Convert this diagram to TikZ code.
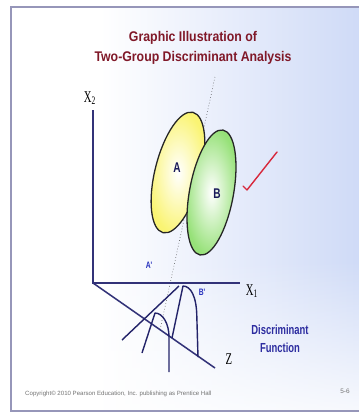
\documentclass[tikz,border=0pt]{standalone}
\usepackage{fontspec}
\setmainfont{Liberation Sans}
\newfontfamily\titlefont[FakeStretch=0.88]{Liberation Sans Bold}
\newfontfamily\narrowfont[FakeStretch=0.8]{Liberation Sans}
\newfontfamily\narrowbold[FakeStretch=0.72]{Liberation Sans Bold}
\newfontfamily\axisfont[FakeStretch=0.65]{Liberation Serif}
\usetikzlibrary{fadings}
\definecolor{titlered}{RGB}{128, 24, 40}
\definecolor{axisnavy}{RGB}{50, 50, 120}
\definecolor{curvenavy}{RGB}{35, 35, 105}
\definecolor{darknavy}{RGB}{25, 25, 90}
\definecolor{projblue}{RGB}{40, 50, 190}
\definecolor{funcblue}{RGB}{45, 45, 160}
\definecolor{framegray}{RGB}{150, 150, 185}
\definecolor{bgblue}{RGB}{196, 210, 245}
\definecolor{ellyellow}{RGB}{250, 244, 115}
\definecolor{ellgreen}{RGB}{150, 225, 120}
\definecolor{checkred}{RGB}{215, 40, 60}

\begin{document}
\begin{tikzpicture}[
  x=0.03cm, y=-0.03cm,
  axis/.style={draw=axisnavy, line width=1.3pt},
  curve/.style={draw=curvenavy, line width=1.2pt, line join=round},
  ellbox/.style={draw=black!85, line width=1.1pt},
  axlabel/.style={font=\axisfont\fontsize{14}{14}\selectfont, text=black, inner sep=0pt},
  grplabel/.style={font=\narrowbold\fontsize{12}{12}\selectfont, text=darknavy, inner sep=0pt},
  projlabel/.style={font=\narrowbold\fontsize{8}{8}\selectfont, text=projblue, inner sep=0pt},
  footnote/.style={font=\fontsize{5.2}{6}\selectfont, text=black!55, inner sep=0pt}
]
  \useasboundingbox (0, 0) rectangle (358, 414);
  \fill[white] (0, 0) rectangle (358, 414);
  \shade[left color=white, right color=bgblue] (100, 7) rectangle (420, 411);
  \fill[white, path fading=north] (0, 260) rectangle (360, 440);
  \draw[framegray, line width=1.5pt] (362, 7) -- (11, 7) -- (11, 411) -- (362, 411);

  \node[font=\titlefont\fontsize{11.95}{17}\selectfont, text=titlered, align=center] (title) at (193, 48) {Graphic Illustration of\\Two-Group Discriminant Analysis};

  \coordinate (O) at (93, 283);
  \coordinate (x2end) at (93, 110);
  \coordinate (x1end) at (240, 283);
  \coordinate (zend) at (215, 368);
  \coordinate (dtop) at (215, 77);
  \coordinate (dbot) at (160, 330);

  \draw[dotted, line width=0.5pt, black!75] (dtop) -- (dbot);

  \shadedraw[ellbox, inner color=white, outer color=ellyellow] (178, 172.5) circle[x radius=62, y radius=23, rotate=76];
  \shadedraw[ellbox, inner color=white, outer color=ellgreen] (211.5, 192.5) circle[x radius=63.5, y radius=22, rotate=79.6];

  \node[grplabel] (grpA) at (177, 168) {A};
  \node[grplabel] (grpB) at (217, 194) {B};

  \coordinate (chk1) at (243, 186);
  \coordinate (chk2) at (247, 190);
  \coordinate (chk3) at (277, 152);
  \draw[checkred, line width=1.2pt, line cap=round, line join=round] (chk1) -- (chk2) -- (chk3);

  \draw[axis] (x2end) -- (O) -- (x1end);
  \draw[axis] (O) -- (zend);

  \node[axlabel] (labX2) at (90, 98) {X\textsubscript{2}};
  \node[axlabel] (labX1) at (252, 291) {X\textsubscript{1}};
  \node[axlabel] (labZ) at (229, 359) {Z};

  \node[projlabel] (projA) at (149, 265) {A'};
  \node[projlabel] (projB) at (202, 292) {B'};

  \coordinate (peakA) at (155, 313);
  \coordinate (peakB) at (183, 286);
  \coordinate (footA) at (169, 337);
  \coordinate (footB) at (198, 357);
  \coordinate (tailA) at (142, 353);
  \coordinate (tailL) at (122, 340);
  \coordinate (tailV) at (169, 372);
  \coordinate (topL) at (179, 286);
  \coordinate (baseB) at (172, 338);

  \draw[curve] (tailL) -- (topL);
  \draw[curve] (tailA) -- (peakA) .. controls (163, 313) and (169, 324) .. (footA) -- (tailV);
  \draw[curve] (baseB) -- (peakB) .. controls (191, 286) and (196.5, 297) .. (196.8, 316) -- (footB);

  \node[font=\narrowbold\fontsize{11.2}{15.4}\selectfont, text=funcblue, align=center] (func) at (280, 339) {Discriminant\\Function};

  \node[footnote, anchor=west] (copy) at (25, 394) {Copyright© 2010 Pearson Education, Inc. publishing as Prentice Hall};
  \node[footnote, font=\fontsize{5.5}{6}\selectfont] (page) at (345, 391) {5-6};
\end{tikzpicture}
\end{document}
